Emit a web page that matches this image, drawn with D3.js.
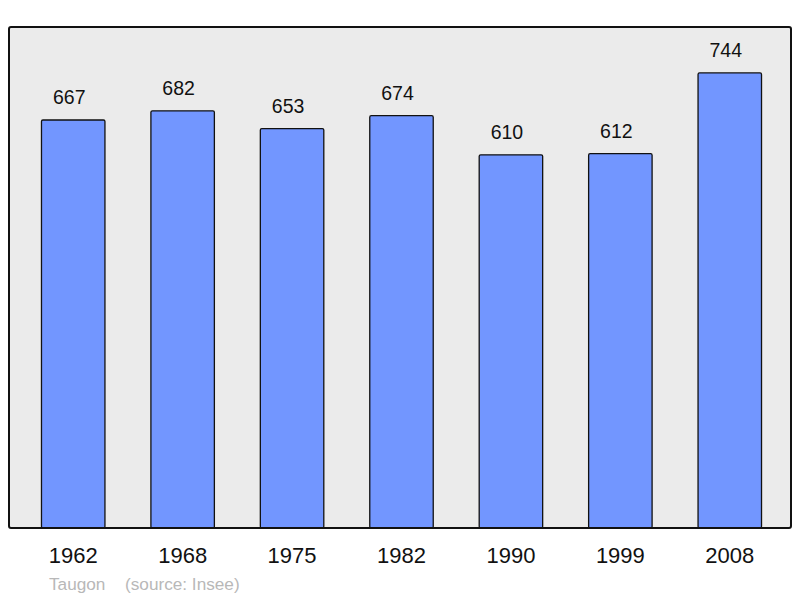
<!DOCTYPE html>
<html>
<head>
<meta charset="utf-8">
<script src="https://cdn.jsdelivr.net/npm/d3@7"></script>
<style>
  body { margin: 0; background: #fff; }
  text { font-family: "Liberation Sans", Arial, sans-serif; }
</style>
</head>
<body>
<div id="chart"></div>
<script>
var years = ["1962", "1968", "1975", "1982", "1990", "1999", "2008"];
var population = [667, 682, 653, 674, 610, 612, 744];
var footerLabels = ["Taugon", "(source: Insee)"];

var svgWidth = 800;
var svgHeight = 598;

var frame = { left: 9, top: 27, right: 791, bottom: 528 };

var svg = d3.select("#chart")
  .append("svg")
  .attr("width", svgWidth)
  .attr("height", svgHeight);

// plot background
svg.append("rect")
  .attr("x", frame.left)
  .attr("y", frame.top)
  .attr("width", frame.right - frame.left)
  .attr("height", frame.bottom - frame.top)
  .attr("rx", 2)
  .attr("fill", "#ebebeb")
  .attr("stroke", "none");

var xScale = d3.scaleBand()
  .domain(years)
  .range([18.5, 784.5])
  .paddingInner(0.42)
  .paddingOuter(0.21);

var yScale = d3.scaleLinear()
  .domain([0, 819])
  .range([frame.bottom, frame.top]);

svg.selectAll(".bar")
  .data(years)
  .enter()
  .append("rect")
  .attr("class", "bar")
  .attr("x", d => xScale(d))
  .attr("y", (d, i) => yScale(population[i]))
  .attr("width", xScale.bandwidth())
  .attr("height", (d, i) => frame.bottom - yScale(population[i]))
  .attr("rx", 1.5)
  .attr("fill", "#7296ff")
  .attr("stroke", "#111")
  .attr("stroke-width", 1.3);

svg.selectAll(".value")
  .data(years)
  .enter()
  .append("text")
  .attr("class", "value")
  .attr("x", d => xScale(d) + xScale.bandwidth() / 2 - 4)
  .attr("y", (d, i) => yScale(population[i]) - 16)
  .attr("text-anchor", "middle")
  .attr("font-size", "19.5px")
  .attr("fill", "#111")
  .text((d, i) => population[i]);

// frame border drawn over bars
svg.append("rect")
  .attr("x", frame.left)
  .attr("y", frame.top)
  .attr("width", frame.right - frame.left)
  .attr("height", frame.bottom - frame.top)
  .attr("rx", 2)
  .attr("fill", "none")
  .attr("stroke", "#111")
  .attr("stroke-width", 2);

var xAxis = d3.axisBottom(xScale).tickSize(0).tickPadding(0);

var axisG = svg.append("g")
  .attr("transform", "translate(0," + 563 + ")")
  .call(xAxis);
axisG.select(".domain").remove();
axisG.selectAll("text")
  .attr("dy", 0)
  .attr("y", 0)
  .attr("font-size", "22px")
  .attr("font-family", "Liberation Sans, Arial, sans-serif")
  .attr("fill", "#111");

svg.append("text")
  .attr("x", 49)
  .attr("y", 590)
  .attr("font-size", "17.2px")
  .attr("fill", "#b8b8b8")
  .text(footerLabels[0]);

svg.append("text")
  .attr("x", 125)
  .attr("y", 590)
  .attr("font-size", "17.2px")
  .attr("fill", "#b8b8b8")
  .text(footerLabels[1]);
</script>
</body>
</html>
